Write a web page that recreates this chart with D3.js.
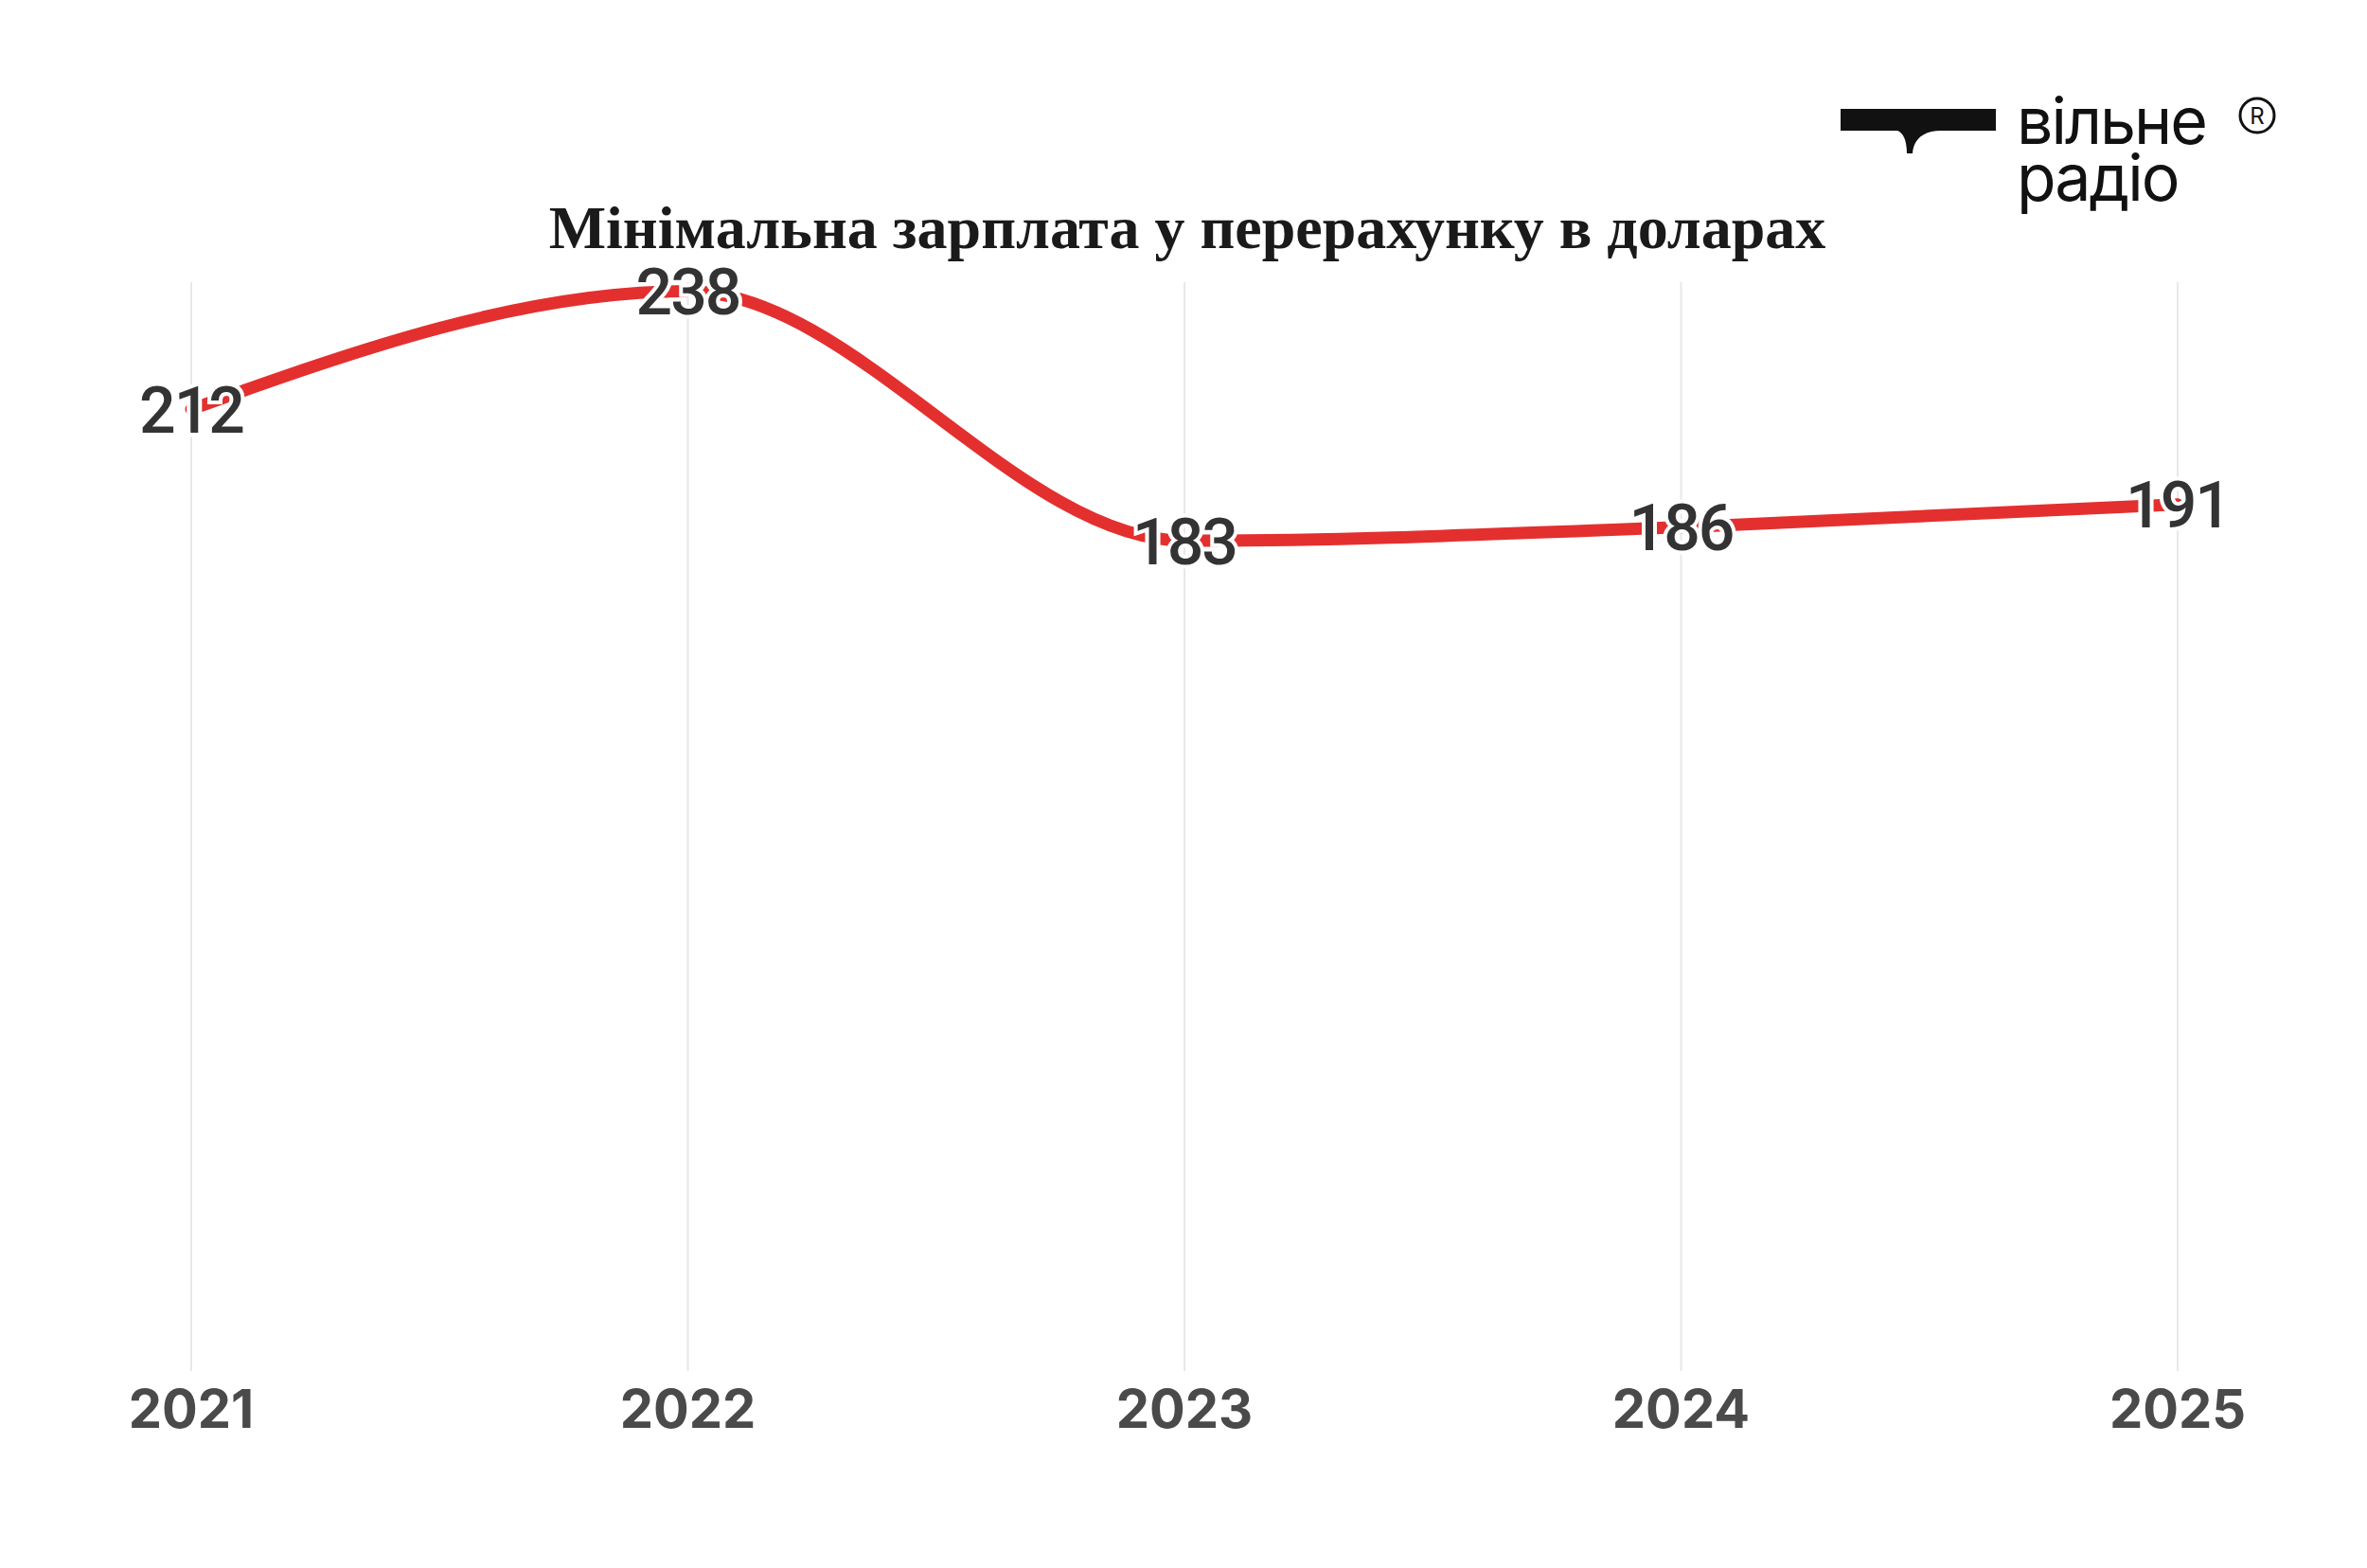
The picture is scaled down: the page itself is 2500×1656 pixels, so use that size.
<!DOCTYPE html>
<html>
<head>
<meta charset="utf-8">
<script src="https://cdn.jsdelivr.net/npm/d3@7"></script>
<style>
  body { margin: 0; background: #fff; }
</style>
</head>
<body>
<div id="chart"></div>
<script>
const years = ["2021", "2022", "2023", "2024", "2025"];
const wages = [212, 238, 183, 186, 191];
const yDomain = [0, 240];

const width = 2500, height = 1656;
const svg = d3.select("#chart").append("svg")
  .attr("width", width).attr("height", height);

const x = d3.scalePoint().domain(years).range([202, 2300]);
const y = d3.scaleLinear().domain(yDomain).range([1448, 298]);

// vertical gridlines
svg.append("g").selectAll("line").data(years).join("line")
  .attr("x1", d => x(d)).attr("x2", d => x(d))
  .attr("y1", 298).attr("y2", 1448)
  .attr("stroke", "#e8e8e8").attr("stroke-width", 2);

// year labels
svg.append("g").selectAll("text").data(years).join("text")
  .attr("x", d => x(d)).attr("y", 1508)
  .attr("text-anchor", "middle")
  .attr("font-family", "Inter, 'Open Sans', sans-serif")
  .attr("font-weight", 700).attr("font-size", 56)
  .attr("fill", "#4a4a4a")
  .text(d => d);

const pts = years.map((d, i) => ({ year: d, value: wages[i] }));

const line = d3.line()
  .x(d => x(d.year)).y(d => y(d.value))
  .curve(d3.curveMonotoneX);

svg.append("path").datum(pts)
  .attr("d", line)
  .attr("fill", "none")
  .attr("stroke", "#e3302f")
  .attr("stroke-width", 13)
  .attr("stroke-linecap", "round");

// value labels with white halo
svg.append("g").selectAll("text").data(pts).join("text")
  .attr("x", d => x(d.year)).attr("y", d => y(d.value))
  .attr("dy", "0.36em")
  .attr("text-anchor", "middle")
  .attr("font-family", "Roboto, sans-serif")
  .attr("font-weight", 500)
  .attr("font-size", 68)
  .attr("letter-spacing", -2)
  .attr("fill", "#333")
  .attr("stroke", "#fff").attr("stroke-width", 8)
  .attr("paint-order", "stroke")
  .text(d => d.value);

// title
svg.append("text")
  .attr("x", 1254).attr("y", 262)
  .attr("text-anchor", "middle")
  .attr("font-family", "'Liberation Serif', 'Times New Roman', serif")
  .attr("font-weight", 700).attr("font-size", 64)
  .attr("fill", "#1a1a1a")
  .text("Мінімальна зарплата у перерахунку в доларах");

// logo
const logo = svg.append("g");
logo.append("path")
  .attr("d", "M1944,115 H2108 V138 H2050 C2030,138 2021,148 2020,162 H2014 C2014,148 2010,140 2004,138 H1944 Z")
  .attr("fill", "#111");
logo.append("text")
  .attr("x", 2130).attr("y", 152)
  .attr("font-family", "Inter, sans-serif").attr("font-size", 68)
  .attr("fill", "#111").attr("letter-spacing", -2)
  .text("вільне");
logo.append("text")
  .attr("x", 2130).attr("y", 212)
  .attr("font-family", "Inter, sans-serif").attr("font-size", 68)
  .attr("fill", "#111").attr("letter-spacing", -2)
  .text("радіо");
logo.append("circle")
  .attr("cx", 2384).attr("cy", 122).attr("r", 18)
  .attr("fill", "none").attr("stroke", "#111").attr("stroke-width", 3);
logo.append("text")
  .attr("x", 2384).attr("y", 131)
  .attr("text-anchor", "middle")
  .attr("font-family", "Inter, sans-serif").attr("font-size", 24)
  .attr("fill", "#111").text("R");
</script>
</body>
</html>
